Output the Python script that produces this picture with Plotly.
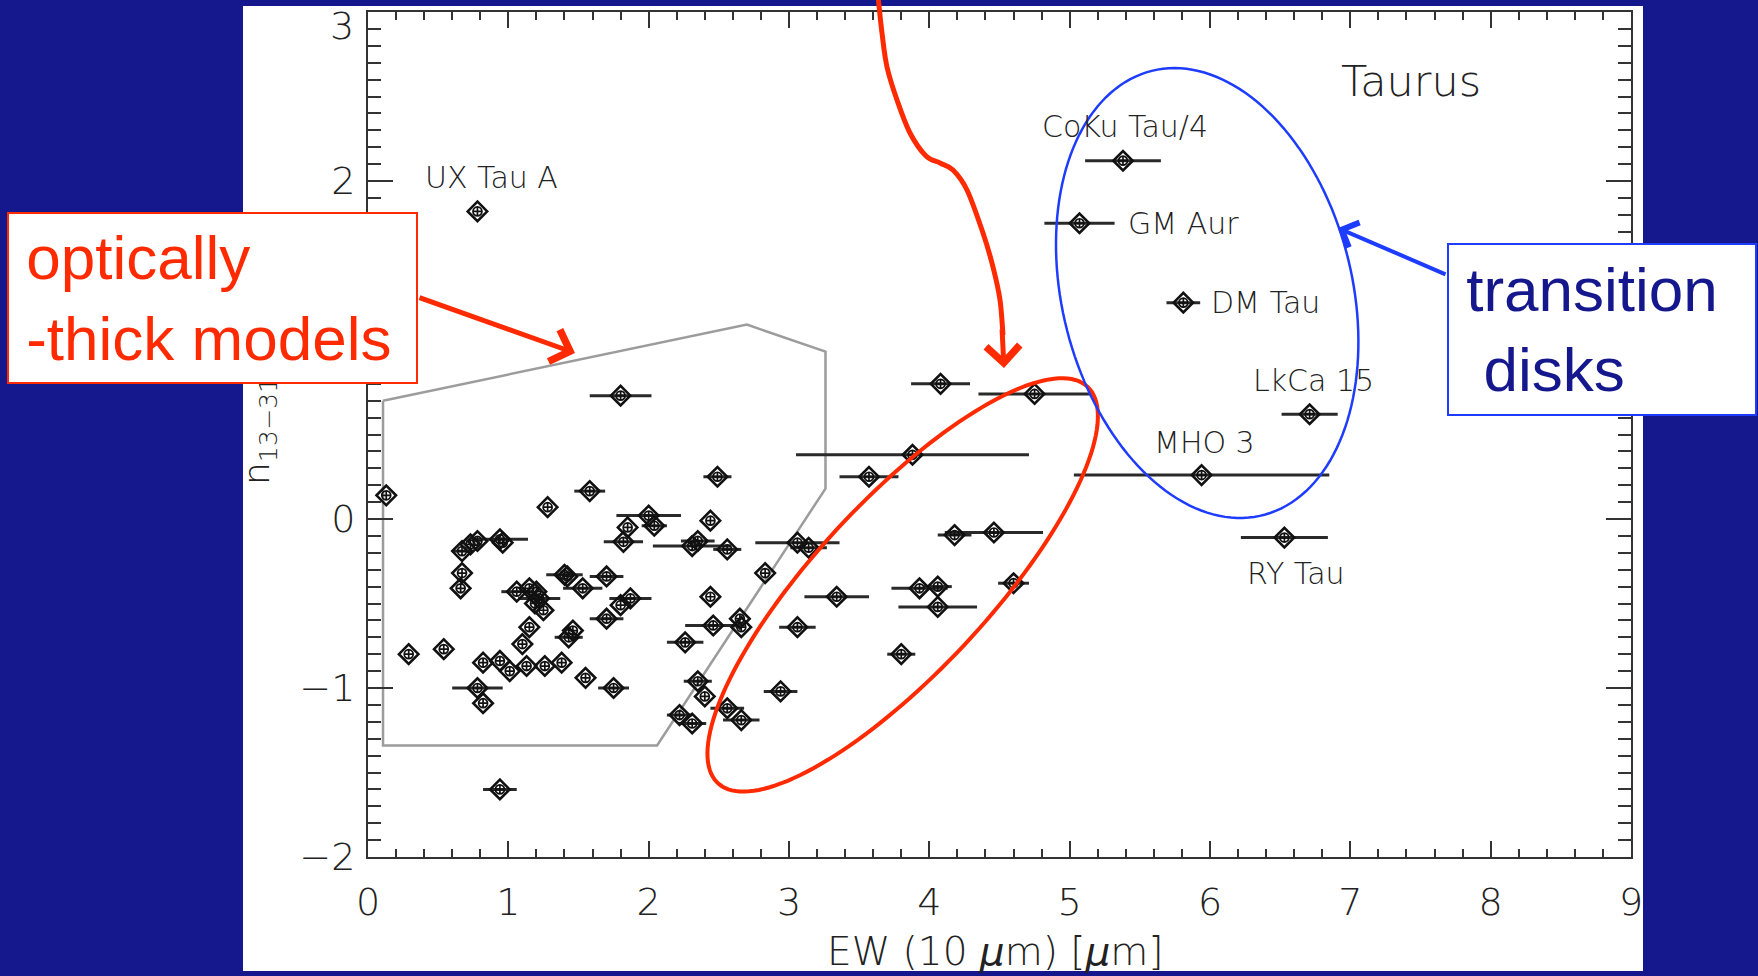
import numpy as np
import plotly.graph_objects as go

# ---------------------------------------------------------------- data ----
# Taurus sample: 10 um silicate equivalent width vs. 13-31 um spectral index
ew = [1.80, 0.13, 1.28, 1.58, 2.49, 2.00, 2.04, 1.85, 2.44, 1.82, 2.31, 2.35, 2.56,
      0.67, 0.78, 0.73, 0.94, 0.96, 0.67, 0.66, 0.29, 0.54,
      1.40, 1.42, 1.70, 1.53, 1.06, 1.15, 1.20, 1.22, 1.19, 1.25,
      1.87, 1.80, 1.70, 1.15, 1.10, 1.46, 1.43,
      0.82, 0.94, 1.01, 1.13, 1.26, 1.38, 1.55, 1.75, 0.78, 0.82, 0.94,
      2.44, 2.46, 2.26, 2.65, 2.66, 2.35, 2.40, 2.56, 2.22, 2.31, 2.66,
      2.83, 2.94, 3.06, 3.14, 3.06, 3.34, 3.57, 3.88, 4.08, 4.75,
      4.18, 4.46, 3.93, 4.06, 4.06, 4.60, 3.80]
n1331 = [0.73, 0.14, 0.07, 0.165, 0.25, 0.02, -0.04, -0.05, -0.01, -0.135, -0.16, -0.13, -0.18,
         -0.19, -0.13, -0.15, -0.12, -0.14, -0.32, -0.41, -0.80, -0.77,
         -0.33, -0.34, -0.34, -0.41, -0.43, -0.41, -0.43, -0.47, -0.50, -0.54,
         -0.47, -0.51, -0.59, -0.64, -0.74, -0.66, -0.70,
         -0.85, -0.84, -0.90, -0.87, -0.87, -0.85, -0.94, -1.00, -1.00, -1.09, -1.60,
         -0.46, -0.63, -0.73, -0.59, -0.64, -0.96, -1.05, -1.12, -1.16, -1.21, -1.19,
         -0.32, -1.02, -0.14, -0.17, -0.64, -0.46, 0.25, 0.38, 0.80, 0.74,
         -0.095, -0.08, -0.41, -0.40, -0.52, -0.38, -0.80]
ew_err = [0.22, 0, 0, 0.11, 0.10, 0.23, 0.09, 0, 0, 0.14, 0.28, 0.12, 0.10,
          0.07, 0, 0, 0.20, 0, 0, 0, 0, 0,
          0.13, 0, 0.12, 0.14, 0.11, 0, 0, 0.15, 0, 0,
          0.15, 0, 0.12, 0, 0, 0, 0.10,
          0, 0, 0, 0, 0, 0, 0, 0.11, 0.18, 0, 0.12,
          0, 0.20, 0.13, 0, 0, 0.10, 0, 0.12, 0.09, 0.10, 0.13,
          0, 0.12, 0.30, 0.13, 0.13, 0.23, 0.21, 0.83, 0.21, 0.40,
          0.12, 0.35, 0.20, 0.10, 0.28, 0.11, 0.10]

# individually labelled objects
star_names = ["UX Tau A", "CoKu Tau/4", "GM Aur", "DM Tau", "LkCa 15", "MHO 3", "RY Tau"]
star_ew = [0.78, 5.38, 5.07, 5.81, 6.71, 5.94, 6.53]
star_n = [1.82, 2.12, 1.75, 1.28, 0.62, 0.26, -0.11]
star_err = [0, 0.27, 0.25, 0.12, 0.20, 0.91, 0.31]
# where each name is written (left edge, vertical centre), data units
star_label_x = [0.39, 4.79, 5.40, 5.99, 6.29, 5.59, 6.25]
star_label_y = [2.02, 2.32, 1.75, 1.28, 0.82, 0.45, -0.32]

# outline of the optically-thick disk model region
model_ew = [0.107, 2.70, 3.26, 3.26, 2.06, 0.107, 0.107]
model_n = [0.70, 1.15, 0.99, 0.18, -1.34, -1.34, 0.70]

x_ticks = list(range(0, 10))
y_ticks = [-2, -1, 0, 1, 2]      # the top label "3" sits inside the frame, drawn separately

# ---------------------------------------------------------------- frame ----
W, H = 1758, 976
L, R, T, B = 368, 1631, 12, 857          # plotting box in page pixels
X0, X1 = 0, 9
Y0, Y1 = -2, 3
PX_X = (R - L) / (X1 - X0)               # pixels per x unit
PX_Y = (B - T) / (Y1 - Y0)               # pixels per y unit

NAVY = "#15178C"
RED = "#FF2A00"
BLUE = "#1E3CFF"
INK = "#222222"
TICK_FONT = "DejaVu Sans"
SLIDE_FONT = "Liberation Sans, Arial"


def paper(px, py):
    """page pixel -> paper fraction of the plotting box"""
    return (px - L) / (R - L), (B - py) / (B - T)


def ellipse_path(cx, cy, a_px, b_px, angle_deg, n=160):
    """closed SVG path (data units) of an ellipse with semi-axes given in screen pixels"""
    t = np.linspace(0, 2 * np.pi, n)
    th = np.radians(angle_deg)
    u, v = a_px * np.cos(t), b_px * np.sin(t)
    dx = (u * np.cos(th) - v * np.sin(th)) / PX_X
    dy = (u * np.sin(th) + v * np.cos(th)) / PX_Y
    xs, ys = cx + dx, cy + dy
    d = f"M{xs[0]:.4f},{ys[0]:.4f}" + "".join(f" L{x:.4f},{y:.4f}" for x, y in zip(xs[1:], ys[1:]))
    return d + " Z"


def smooth_paper_path(points_px):
    """Catmull-Rom curve through pixel points, returned as an SVG path in paper units"""
    pts = [paper(*p) for p in points_px]
    d = f"M{pts[0][0]:.5f},{pts[0][1]:.5f}"
    for i in range(len(pts) - 1):
        p0 = pts[i - 1] if i > 0 else pts[i]
        p1, p2 = pts[i], pts[i + 1]
        p3 = pts[i + 2] if i + 2 < len(pts) else pts[i + 1]
        c1 = (p1[0] + (p2[0] - p0[0]) / 6, p1[1] + (p2[1] - p0[1]) / 6)
        c2 = (p2[0] - (p3[0] - p1[0]) / 6, p2[1] - (p3[1] - p1[1]) / 6)
        d += f" C{c1[0]:.5f},{c1[1]:.5f} {c2[0]:.5f},{c2[1]:.5f} {p2[0]:.5f},{p2[1]:.5f}"
    return d


fig = go.Figure()

# model region
fig.add_trace(go.Scatter(x=model_ew, y=model_n, mode="lines",
                         line=dict(color="#9c9c9c", width=2.5),
                         hoverinfo="skip", showlegend=False))

all_x = ew + star_ew
all_y = n1331 + star_n
all_e = ew_err + star_err

# error bars + diamond outline
fig.add_trace(go.Scatter(
    x=all_x, y=all_y, mode="markers",
    error_x=dict(type="data", array=all_e, visible=True, width=0,
                 thickness=3, color="#2a2a2a"),
    marker=dict(symbol="diamond-open", size=15, color="#111111",
                line=dict(width=2.6, color="#111111")),
    showlegend=False))
# inner circled cross
fig.add_trace(go.Scatter(
    x=all_x, y=all_y, mode="markers",
    marker=dict(symbol="circle-cross-open", size=9, color="#111111",
                line=dict(width=1.7, color="#111111")),
    hoverinfo="skip", showlegend=False))

# object names
for name, lx, ly in zip(star_names, star_label_x, star_label_y):
    fig.add_annotation(x=lx, y=ly, xref="x", yref="y", text=name, showarrow=False,
                       xanchor="left", yanchor="middle",
                       font=dict(family=TICK_FONT, size=30, color=INK, weight=300))
fig.add_annotation(x=6.92, y=2.59, xref="x", yref="y", text="Taurus", showarrow=False,
                   xanchor="left", yanchor="middle",
                   font=dict(family=TICK_FONT, size=43, color=INK, weight=300))

shapes = []
# white slide panel behind the plot
p0 = paper(243, 971)
p1 = paper(1643, 6)
shapes.append(dict(type="rect", xref="paper", yref="paper", layer="below",
                   x0=p0[0], y0=p0[1], x1=p1[0], y1=p1[1],
                   fillcolor="white", line=dict(width=0)))
# highlighted groups
shapes.append(dict(type="path", xref="x", yref="y", layer="above",
                   path=ellipse_path(3.81, -0.39, 271, 86, 47),
                   line=dict(color=RED, width=4)))
shapes.append(dict(type="path", xref="x", yref="y", layer="above",
                   path=ellipse_path(5.98, 1.337, 229, 145, 104),
                   line=dict(color=BLUE, width=2.5)))
# curved pointer from the top of the slide
curve_pts = [(878, -4), (882, 33), (887, 67), (897, 100), (910, 133), (926, 156),
             (940, 163), (953, 170), (967, 190), (983, 233), (993, 267), (1000, 300),
             (1003, 335)]
shapes.append(dict(type="path", xref="paper", yref="paper", layer="above",
                   path=smooth_paper_path(curve_pts),
                   line=dict(color=RED, width=5)))

fig.update_layout(shapes=shapes)

# top y tick label, kept inside the page
lx3, ly3 = paper(356, 26)
fig.add_annotation(x=lx3, y=ly3, xref="paper", yref="paper", text="3", showarrow=False,
                   xanchor="right", yanchor="middle",
                   font=dict(family=TICK_FONT, size=38, color=INK, weight=300))

# axis titles
ex, ey = paper(995, 952)
fig.add_annotation(x=ex, y=ey, xref="paper", yref="paper", showarrow=False,
                   xanchor="center", yanchor="middle",
                   text="EW (10 <i>μ</i>m) [<i>μ</i>m]",
                   font=dict(family=TICK_FONT, size=39, color=INK, weight=300))
nx, ny = paper(259, 431)
fig.add_annotation(x=nx, y=ny, xref="paper", yref="paper", showarrow=False,
                   xanchor="center", yanchor="middle",
                   text="n<sub>13−31</sub>", textangle=-90,
                   font=dict(family=TICK_FONT, size=36, color=INK, weight=300))

# arrow head for the curved pointer
tx, ty = paper(1004, 368)
fig.add_annotation(x=tx, y=ty, xref="paper", yref="paper", text="", showarrow=True,
                   ax=-2, ay=-40, arrowhead=4, arrowsize=1.3, arrowwidth=5,
                   arrowcolor=RED, standoff=0)

# callout boxes (drawn last so they cover the frame beneath them)
bx, by = paper(7, 212)
fig.add_annotation(x=bx, y=by, xref="paper", yref="paper",
                   text="&nbsp;optically<br>&nbsp;-thick models", showarrow=False,
                   xanchor="left", yanchor="top", align="left", valign="middle",
                   width=407, height=168,
                   bgcolor="white", bordercolor=RED, borderwidth=2, borderpad=0,
                   font=dict(family=SLIDE_FONT, size=62, color=RED))
ax_, ay_ = paper(575, 353)
fig.add_annotation(x=ax_, y=ay_, xref="paper", yref="paper", text="", showarrow=True,
                   ax=418 - 575, ay=297 - 353, arrowhead=4, arrowsize=1.3, arrowwidth=5,
                   arrowcolor=RED, standoff=0)

bx, by = paper(1447, 243)
fig.add_annotation(x=bx, y=by, xref="paper", yref="paper",
                   text="&nbsp;transition<br>&nbsp;&nbsp;disks", showarrow=False,
                   xanchor="left", yanchor="top", align="left", valign="middle",
                   width=306, height=169,
                   bgcolor="white", bordercolor=BLUE, borderwidth=2, borderpad=0,
                   font=dict(family=SLIDE_FONT, size=62, color=NAVY))
ax_, ay_ = paper(1338, 228)
fig.add_annotation(x=ax_, y=ay_, xref="paper", yref="paper", text="", showarrow=True,
                   ax=1447 - 1338, ay=275 - 228, arrowhead=4, arrowsize=1.3, arrowwidth=4,
                   arrowcolor=BLUE, standoff=0)

axis_common = dict(showgrid=False, zeroline=False, showline=True, linecolor="#333333",
                   linewidth=2, mirror="ticks", ticks="inside", tickwidth=2,
                   tickcolor="#333333",
                   tickfont=dict(family=TICK_FONT, size=38, color=INK, weight=300))
fig.update_xaxes(range=[X0, X1], tickvals=x_ticks, ticklen=16, ticklabelstandoff=10,
                 minor=dict(dtick=0.2, ticklen=8, ticks="inside", tickwidth=2,
                            tickcolor="#333333"),
                 **axis_common)
fig.update_yaxes(range=[Y0, Y1], tickvals=y_ticks, ticklen=25, ticklabelstandoff=3,
                 minor=dict(dtick=0.1, ticklen=13, ticks="inside", tickwidth=2,
                            tickcolor="#333333"),
                 **axis_common)

fig.update_layout(width=W, height=H, paper_bgcolor=NAVY, plot_bgcolor="white",
                  margin=dict(l=L, r=W - R, t=T, b=H - B, autoexpand=False),
                  showlegend=False)

fig.write_html("out.html")
